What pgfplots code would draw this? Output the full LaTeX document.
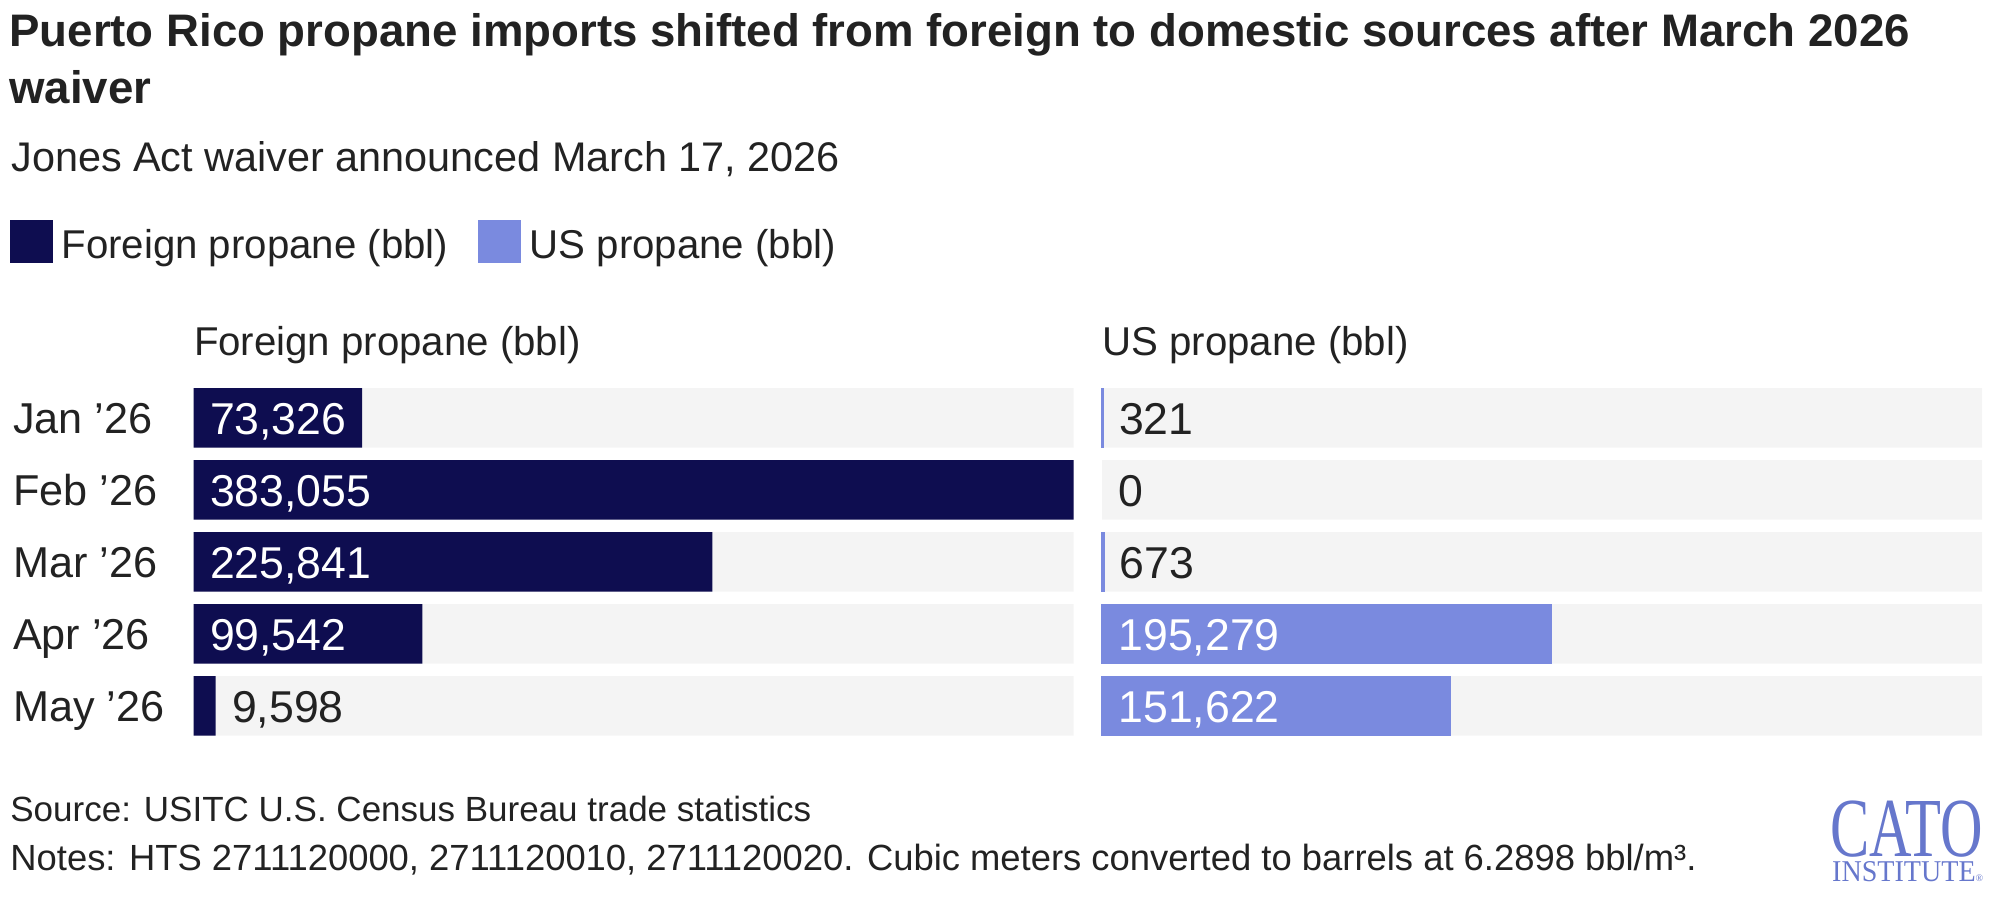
\documentclass[border=0pt]{standalone}
\usepackage{fontspec}
\setmainfont{Liberation Sans}
\newfontfamily\logofont{Liberation Serif}
\usepackage{graphicx}
\usepackage{pgfplots}
\usepackage{pgfplotstable}
\pgfplotsset{compat=1.18}
\definecolor{navy}{HTML}{0E0D50}
\definecolor{usblue}{HTML}{7A8ADF}
\definecolor{track}{HTML}{F4F4F4}
\definecolor{ink}{HTML}{222222}
\definecolor{cato}{HTML}{6677CC}

\pgfplotstableread{
row foreign us
0 73326 321
1 383055 0
2 225841 673
3 99542 195279
4 9598 151622
}\propdata

\pgfplotstableread{
row full
0 383055
1 383055
2 383055
3 383055
4 383055
}\trackdata

\pgfplotsset{
 /pgf/number format/assume math mode=true,
 panel/.style={
   scale only axis, width=440pt, height=180pt,
   xmin=0, xmax=383055, ymin=-0.5, ymax=4.5, y dir=reverse,
   axis line style={draw=none}, tick style={draw=none},
   xtick=\empty, ytick=\empty, clip=false,
   title style={at={(0,1)}, anchor=base west, yshift=7pt, inner sep=0pt, font=\fontsize{20.1}{24}\selectfont, text=ink},
 },
 lbl/.style={forget plot, draw=none, mark=none,
   nodes near coords={\pgfmathprintnumber[fixed,precision=0,1000 sep={,}]{\pgfplotspointmeta}},
   point meta=explicit,
   nodes near coords style={anchor=base west, inner sep=0pt, xshift=8pt, yshift=-8.5pt, font=\fontsize{22.3}{26}\selectfont, text=#1}},
}

\begin{document}
\begin{tikzpicture}
\useasboundingbox (0pt,0pt) rectangle (998.5pt,-448pt);
\node[anchor=base west, inner sep=0pt, font=\bfseries\fontsize{22.8}{27}\selectfont, text=ink] at (4.5pt,-23.35pt) {Puerto Rico propane imports shifted from foreign to domestic sources after March 2026};
\node[anchor=base west, inner sep=0pt, font=\bfseries\fontsize{22.8}{27}\selectfont, text=ink] at (4.5pt,-51.5pt) {waiver};
\node[anchor=base west, inner sep=0pt, font=\fontsize{20.7}{24}\selectfont, text=ink] at (5.5pt,-85.85pt) {Jones Act waiver announced March 17, 2026};

\begin{axis}[panel, at={(96.8pt,-190.9pt)}, anchor=north west,
  title={Foreign propane (bbl)},
  ytick={0,1,2,3,4},
  yticklabels={Jan ’26, Feb ’26, Mar ’26, Apr ’26, May ’26},
  yticklabel style={anchor=base west, inner sep=0pt, xshift=-90.45pt, yshift=-8pt, font=\fontsize{21.6}{26}\selectfont, text=ink},
  legend style={at={(-0.2089,1.4494)}, anchor=north west, draw=none, fill=none, inner sep=0pt,
    font=\fontsize{20.1}{24}\selectfont, text=ink,
    /tikz/every even column/.append style={column sep=13.1pt},
    /tikz/every odd column/.append style={column sep=2.3pt}},
  legend columns=-1, legend cell align=left]
\addplot[forget plot, xbar, bar width=29.75pt, bar shift=0pt, fill=track, draw=none] table[x=full, y=row] {\trackdata};
\addplot[forget plot, xbar, bar width=29.75pt, bar shift=0pt, fill=navy, draw=none] table[x=foreign, y=row] {\propdata};
\addplot[lbl=white] table[x expr={\thisrow{foreign}>40000 ? 0 : nan}, y=row, meta=foreign] {\propdata};
\addplot[lbl=ink] table[x expr={\thisrow{foreign}>40000 ? nan : \thisrow{foreign}}, y=row, meta=foreign] {\propdata};
\addlegendimage{legend image code/.code={\fill[navy] (0pt,-8.75pt) rectangle (21pt,12.25pt);}}
\addlegendentry{Foreign propane (bbl)}
\addlegendimage{legend image code/.code={\fill[usblue] (0pt,-8.75pt) rectangle (21pt,12.25pt);}}
\addlegendentry{US propane (bbl)}
\end{axis}

\begin{axis}[panel, at={(551pt,-190.9pt)}, anchor=north west,
  title={US propane (bbl)}]
\addplot[forget plot, xbar, bar width=29.75pt, bar shift=0pt, fill=track, draw=none] table[x=full, y=row] {\trackdata};
\addplot[forget plot, xbar, bar width=28.75pt, bar shift=0pt, fill=usblue, draw=usblue, line width=1pt, x filter/.expression={x==0 ? nan : x}] table[x=us, y=row] {\propdata};
\addplot[lbl=white] table[x expr={\thisrow{us}>40000 ? 0 : nan}, y=row, meta=us] {\propdata};
\addplot[lbl=ink] table[x expr={\thisrow{us}>40000 ? nan : \thisrow{us}}, y=row, meta=us] {\propdata};
\end{axis}

\node[anchor=base west, inner sep=0pt, font=\fontsize{17.5}{21}\selectfont, text=ink] at (5pt,-410.85pt) {Source: USITC U.S. Census Bureau trade statistics};
\node[anchor=base west, inner sep=0pt, font=\fontsize{18.2}{21}\selectfont, text=ink] at (5pt,-435pt) {Notes: HTS 2711120000, 2711120010, 2711120020. Cubic meters converted to barrels at 6.2898 bbl/m³.};
\node[anchor=base west, inner sep=0pt, text=cato] at (915pt,-428.4pt) {\logofont\rlap{\hspace{0.9pt}\raisebox{-12.5pt}{\fontsize{15.1}{16}\selectfont\scalebox{0.93}[1]{INSTITUTE}{\fontsize{5}{5}\selectfont ®}}}{\fontsize{42}{42}\selectfont\scalebox{0.7}[1]{CATO}}};
\end{tikzpicture}
\end{document}
